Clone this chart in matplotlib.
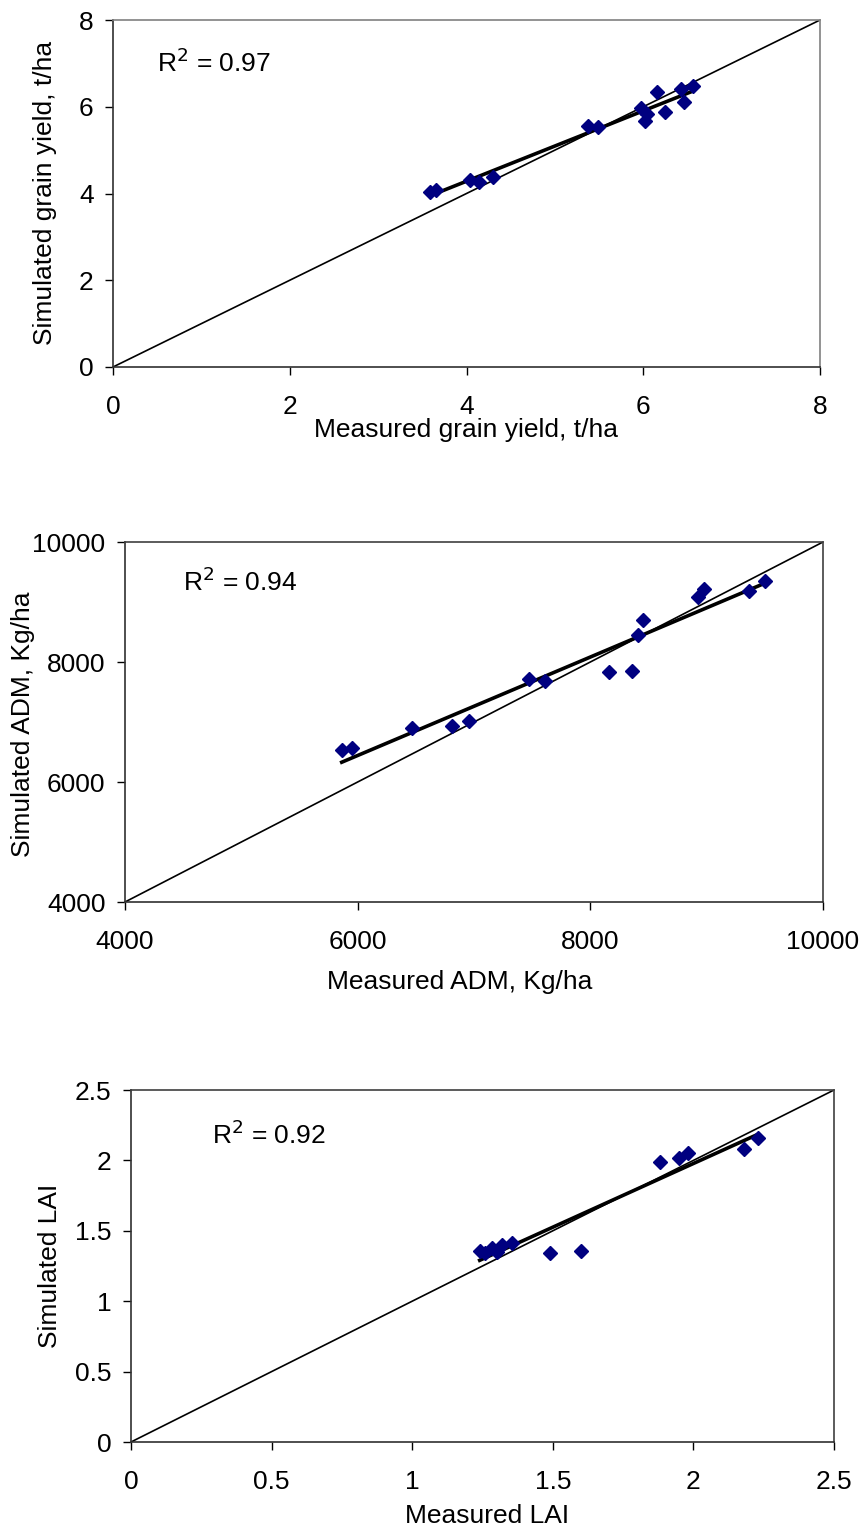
import matplotlib.pyplot as plt
import numpy as np

plt.rcParams['font.family'] = ['Liberation Sans', 'DejaVu Sans']

# grain yield, t/ha
grain_meas = [3.59, 3.65, 4.04, 4.14, 4.30, 5.38, 5.49, 5.98, 6.02, 6.04, 6.15, 6.25, 6.43, 6.46, 6.56]
grain_sim = [4.04, 4.08, 4.31, 4.27, 4.38, 5.56, 5.54, 5.96, 5.68, 5.84, 6.33, 5.87, 6.42, 6.11, 6.47]

# above-ground dry matter, Kg/ha
adm_meas = [5863, 5955, 6471, 6815, 6953, 7477, 7612, 8157, 8357, 8409, 8457, 8925, 8980, 9367, 9499]
adm_sim = [6533, 6562, 6905, 6933, 7022, 7712, 7688, 7828, 7855, 8450, 8700, 9088, 9212, 9183, 9350]

# leaf area index
lai_meas = [1.24, 1.26, 1.285, 1.30, 1.318, 1.354, 1.49, 1.60, 1.88, 1.95, 1.98, 2.18, 2.23]
lai_sim = [1.36, 1.34, 1.375, 1.35, 1.40, 1.415, 1.345, 1.36, 1.99, 2.02, 2.055, 2.08, 2.16]

W, H = 863, 1528
FS = 19

# pos = axes box in pixels (left, top, right, bottom); xl/yl = label anchors in pixels
panels = [
    dict(x=grain_meas, y=grain_sim, lim=(0, 8), ticks=[0, 2, 4, 6, 8],
         xlabel='Measured grain yield, t/ha', ylabel='Simulated grain yield, t/ha',
         r2='0.97', pos=[113, 20, 820, 367], r2xy=(157, 63),
         xl=(466, 418), yl=(57, 193), spine='#808080'),
    dict(x=adm_meas, y=adm_sim, lim=(4000, 10000), ticks=[4000, 6000, 8000, 10000],
         xlabel='Measured ADM, Kg/ha', ylabel='Simulated ADM, Kg/ha',
         r2='0.94', pos=[125, 542, 823, 902], r2xy=(183, 582),
         xl=(460, 970), yl=(35, 724), spine='#404040'),
    dict(x=lai_meas, y=lai_sim, lim=(0, 2.5), ticks=[0, 0.5, 1, 1.5, 2, 2.5],
         xlabel='Measured LAI', ylabel='Simulated LAI',
         r2='0.92', pos=[131, 1090, 834, 1442], r2xy=(212, 1135),
         xl=(487, 1504), yl=(62, 1266), spine='#404040'),
]

fig = plt.figure(figsize=(W / 100, H / 100), dpi=100)

for p in panels:
    l, t, r, b = p['pos']
    ax = fig.add_axes([l / W, 1 - b / H, (r - l) / W, (b - t) / H])
    lo, hi = p['lim']
    ax.plot([lo, hi], [lo, hi], color='black', lw=1.2, zorder=1)
    x = np.array(p['x'])
    y = np.array(p['y'])
    ax.plot(x, y, 'D', color='#000080', markersize=7, zorder=3)
    k, c = np.polyfit(x, y, 1)
    xs = np.array([x.min(), x.max()])
    ax.plot(xs, k * xs + c, color='black', lw=2.6, zorder=2)
    ax.set_xlim(lo, hi)
    ax.set_ylim(lo, hi)
    ax.set_xticks(p['ticks'])
    ax.set_yticks(p['ticks'])
    ax.set_xticklabels([f'{v:g}' for v in p['ticks']])
    ax.set_yticklabels([f'{v:g}' for v in p['ticks']])
    ax.tick_params(direction='out', length=6, width=1, labelsize=FS)
    ax.tick_params(axis='x', pad=14)
    ax.tick_params(axis='y', pad=8)
    for s in ['left', 'bottom']:
        ax.spines[s].set_color('#303030')
        ax.spines[s].set_linewidth(1.2)
    for s in ['top', 'right']:
        ax.spines[s].set_color(p['spine'])
        ax.spines[s].set_linewidth(1.2)
    ax.set_xlabel(p['xlabel'], fontsize=FS)
    ax.set_ylabel(p['ylabel'], fontsize=FS)
    ax.xaxis.set_label_coords(p['xl'][0] / W, 1 - p['xl'][1] / H, transform=fig.transFigure)
    ax.yaxis.set_label_coords(p['yl'][0] / W, 1 - p['yl'][1] / H, transform=fig.transFigure)
    fig.text(p['r2xy'][0] / W, 1 - p['r2xy'][1] / H, r'R$^2$ = ' + p['r2'],
             fontsize=FS, va='center', ha='left')

fig.savefig('out.png', dpi=100)
